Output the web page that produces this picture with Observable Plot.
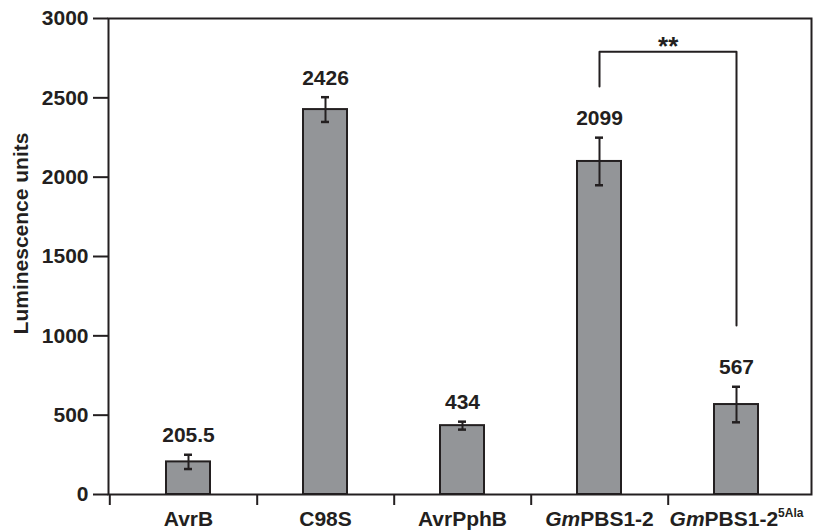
<!DOCTYPE html>
<html><head><meta charset="utf-8">
<script src="https://cdn.jsdelivr.net/npm/d3@7"></script>
<script src="https://cdn.jsdelivr.net/npm/@observablehq/plot@0.6"></script>
<style>body{margin:0;background:#fff}</style>
</head><body><div id="chart"></div>
<script>
const categories = ["AvrB", "C98S", "AvrPphB", "GmPBS1-2", "GmPBS1-2 5Ala"];
const values = [205.5, 2426, 434, 2099, 567];
const valueLabels = ["205.5", "2426", "434", "2099", "567"];
const errors = [45, 78, 25, 150, 112];
const yTicks = [0, 500, 1000, 1500, 2000, 2500, 3000];
const bracketCats = ["GmPBS1-2", "GmPBS1-2", "GmPBS1-2 5Ala", "GmPBS1-2 5Ala"];
const bracketVals = [2571, 2791, 2791, 1065];
const sigLabel = "**";
const yLabel = "Luminescence units";
const labelParts = {
  "GmPBS1-2": [["Gm", "italic"], ["PBS1-2", ""]],
  "GmPBS1-2 5Ala": [["Gm", "italic"], ["PBS1-2", ""], ["5Ala", "sup"]]
};

const data = categories.map((c, i) => ({cat: c, value: values[i], se: errors[i], label: valueLabels[i]}));
const bracket = bracketCats.map((c, i) => ({cat: c, value: bracketVals[i]}));

const W = 813, H = 531, mL = 108, mR = 2, mT = 18, mB = 37, inL = 10, inR = 6;
const step = (W - mL - mR - inL - inR) / categories.length;
const ink = "#231f20";
const fs = 21;

const plot = Plot.plot({
  width: W, height: H,
  marginLeft: mL, marginRight: mR, marginTop: mT, marginBottom: mB,
  style: "font-family: 'Liberation Sans', Arial, sans-serif; font-size: 21px; font-weight: bold; color: #231f20; background: #fff; overflow: visible;",
  x: {domain: categories, paddingInner: 0.68, paddingOuter: 0.34, insetLeft: inL, insetRight: inR, axis: null},
  y: {domain: [0, 3000], axis: null},
  marks: [
    Plot.barY(data, {x: "cat", y: "value", fill: "#939598", stroke: ink, strokeWidth: 2}),
    Plot.ruleX(data, {x: "cat", y1: d => d.value - d.se, y2: d => d.value + d.se, stroke: ink, strokeWidth: 2}),
    Plot.tickY(data, {x: "cat", y: d => d.value + d.se, stroke: ink, strokeWidth: 2.5, insetLeft: 18, insetRight: 18}),
    Plot.tickY(data, {x: "cat", y: d => d.value - d.se, stroke: ink, strokeWidth: 2.5, insetLeft: 18, insetRight: 18}),
    Plot.text(data, {x: "cat", y: d => d.value + d.se, text: "label", dy: -19, fontSize: fs, fontWeight: "bold", fill: ink}),
    Plot.line(bracket, {x: "cat", y: "value", stroke: ink, strokeWidth: 2}),
    Plot.text([{cat: bracketCats[0], value: bracketVals[1], t: sigLabel}], {x: "cat", y: "value", text: "t", dx: step / 2, lineAnchor: "bottom", dy: 3, fontSize: 26, fontWeight: "bold", fill: ink}),
    Plot.frame({stroke: ink, strokeWidth: 2}),
    Plot.ruleX([categories[0]], {dx: -(step / 2 + inL), y1: 0, y2: 0, insetBottom: -11, stroke: ink, strokeWidth: 2}),
    Plot.ruleX(categories.slice(0, -1), {dx: step / 2, y1: 0, y2: 0, insetBottom: -11, stroke: ink, strokeWidth: 2}),
    Plot.axisY({ticks: yTicks, tickFormat: d => String(d), tickSize: 15, tickPadding: 5, strokeWidth: 2, fontSize: fs, fontWeight: "bold", label: null}),
    Plot.text([yLabel], {frameAnchor: "left", textAnchor: "middle", lineAnchor: "middle", rotate: -90, dx: -87, dy: -23, fontSize: fs, fontWeight: "bold", fill: ink}),
    Plot.axisX({tickSize: 0, tickPadding: 17, fontSize: fs, fontWeight: "bold", label: null})
  ]
});

document.getElementById("chart").appendChild(plot);

d3.select(plot).selectAll('[aria-label="x-axis tick label"] text').each(function() {
  const t = this.textContent;
  const parts = labelParts[t];
  if (!parts) return;
  const sel = d3.select(this);
  sel.text(null);
  for (const [s, kind] of parts) {
    const ts = sel.append("tspan").text(s);
    if (kind === "italic") ts.attr("font-style", "italic");
    if (kind === "sup") ts.attr("font-size", 12).attr("dy", "-0.75em");
  }
});
</script>
</body></html>
